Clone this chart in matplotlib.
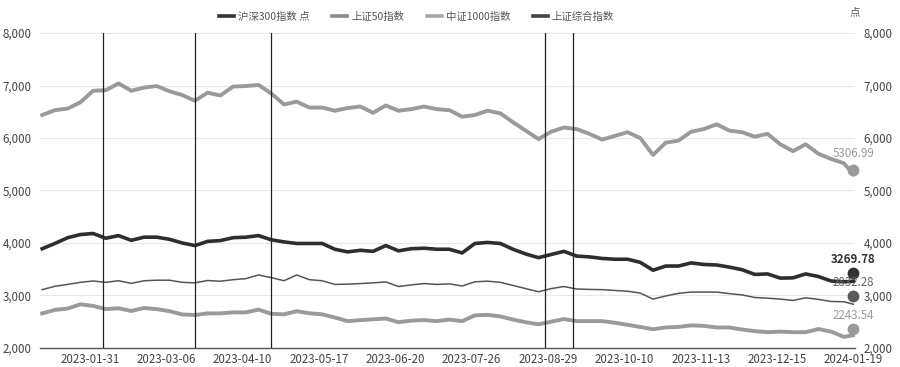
import matplotlib
matplotlib.use("Agg")
import matplotlib.pyplot as plt
from matplotlib.lines import Line2D
import matplotlib.transforms as mtransforms

plt.rcParams['font.family'] = ['Noto Sans CJK SC', 'DejaVu Sans']

# trading-day index of each sample (2023-01-03 = 0 ... 2024-01-19 = 255)
sample_days = list(range(0, 253, 4)) + [255]

csi1000 = [6438, 6530, 6560, 6680, 6900, 6910, 7040, 6900, 6960, 6990,
           6890, 6819, 6710, 6863, 6810, 6980, 6990, 7010, 6850, 6640,
           6692, 6580, 6580, 6520, 6570, 6600, 6480, 6620, 6520, 6550,
           6600, 6550, 6530, 6406, 6438, 6520, 6470, 6300, 6140, 5980,
           6120, 6200, 6170, 6080, 5970, 6040, 6110, 6000, 5676, 5910,
           5950, 6120, 6170, 6261, 6140, 6110, 6025, 6080, 5880, 5750,
           5880, 5700, 5600, 5520, 5306.99]

hs300 = [3890, 3990, 4100, 4160, 4180, 4090, 4140, 4050, 4110, 4110,
         4070, 4000, 3950, 4030, 4045, 4100, 4110, 4140, 4060, 4020,
         3990, 3990, 3990, 3880, 3830, 3860, 3840, 3950, 3850, 3890,
         3900, 3880, 3880, 3810, 3990, 4010, 3990, 3880, 3790, 3720,
         3780, 3840, 3750, 3735, 3705, 3690, 3690, 3630, 3480, 3560,
         3560, 3620, 3590, 3580, 3540, 3490, 3400, 3410, 3330, 3335,
         3410, 3360, 3275, 3260, 3269.78]

sh_comp = [3110, 3174, 3210, 3250, 3275, 3250, 3280, 3230, 3280, 3290,
           3290, 3250, 3240, 3284, 3271, 3300, 3320, 3390, 3340, 3280,
           3390, 3300, 3280, 3210, 3215, 3226, 3240, 3257, 3170, 3200,
           3226, 3210, 3220, 3180, 3260, 3271, 3250, 3190, 3130, 3070,
           3130, 3170, 3122, 3115, 3110, 3095, 3080, 3045, 2930, 2990,
           3040, 3064, 3064, 3064, 3035, 3010, 2961, 2948, 2930, 2905,
           2955, 2925, 2885, 2880, 2832.28]

sz50 = [2658, 2724, 2750, 2830, 2800, 2740, 2755, 2704, 2760, 2740,
        2700, 2638, 2627, 2658, 2658, 2677, 2677, 2730, 2650, 2640,
        2700, 2660, 2640, 2580, 2510, 2530, 2545, 2560, 2490, 2520,
        2530, 2511, 2540, 2510, 2620, 2630, 2600, 2540, 2490, 2450,
        2500, 2550, 2511, 2511, 2511, 2480, 2440, 2400, 2356, 2390,
        2400, 2430, 2420, 2390, 2390, 2350, 2320, 2300, 2310, 2300,
        2300, 2360, 2310, 2210, 2243.54]

tick_labels = ['2023-01-31', '2023-03-06', '2023-04-10', '2023-05-17', '2023-06-20',
               '2023-07-26', '2023-08-29', '2023-10-10', '2023-11-13', '2023-12-15',
               '2024-01-19']
tick_days = [15 + 24 * k for k in range(len(tick_labels))]
vline_days = [19, 48, 72, 158, 167]
yticks = [2000, 3000, 4000, 5000, 6000, 7000, 8000]

series = [
    ('沪深300指数 点', hs300, '#2e2e2e', 2.6, '#333333'),
    ('上证50指数', sz50, '#9a9a9a', 2.8, '#8a8a8a'),
    ('中证1000指数', csi1000, '#9a9a9a', 2.8, '#a8a8a8'),
    ('上证综合指数', sh_comp, '#555555', 1.1, '#444444'),
]

fig = plt.figure(figsize=(9, 3.67), dpi=100)
ax = fig.add_axes([0.0444, 0.052, 0.9056, 0.858])

for label, vals, col, lw, _ in series:
    ax.plot(sample_days, vals, color=col, lw=lw, solid_joinstyle='round', zorder=3)

for d in vline_days:
    ax.axvline(d, color='#222222', lw=0.9, zorder=4)

ax.set_xlim(-0.7, 255.5)
ax.set_ylim(2000, 8000)
ax.set_yticks(yticks)
ax.set_yticklabels([f'{v:,}' for v in yticks])
ax.set_xticks(tick_days)
ax.set_xticklabels(tick_labels)
ax.tick_params(axis='both', length=0, labelsize=8.3, colors='#444444')
ax.tick_params(axis='y', labelright=True, pad=6)
ax.tick_params(axis='x', pad=4)

for v in yticks[1:]:
    ax.axhline(v, color='#e8e8e8', lw=0.8, zorder=1)
for s in ['top', 'right', 'left']:
    ax.spines[s].set_visible(False)
ax.spines['bottom'].set_color('#555555')
ax.spines['bottom'].set_linewidth(1.0)

# end markers and labels
ends = [
    (csi1000, '#9a9a9a', '#9a9a9a', 'normal', 4, 17),
    (hs300, '#333333', '#333333', 'bold', 8, 14),
    (sh_comp, '#5a5a5a', '#666666', 'normal', 8, 14),
    (sz50, '#9a9a9a', '#999999', 'normal', 6, 14),
]
for vals, mcol, tcol, weight, moff, toff in ends:
    off = mtransforms.offset_copy(ax.transData, fig=fig, x=0, y=moff, units='dots')
    ax.plot([sample_days[-1]], [vals[-1]], 'o', ms=7.5, color=mcol, transform=off,
            zorder=6, clip_on=False)
    ax.annotate(f'{vals[-1]:.2f}', (sample_days[-1], vals[-1]), xytext=(0, moff + toff),
                textcoords='offset pixels', ha='center', va='center', fontsize=8.3,
                color=tcol, fontweight=weight, zorder=7, annotation_clip=False)

handles = [Line2D([0], [0], color=lc, lw=2.6) for _, _, _, _, lc in series]
leg = fig.legend(handles, [s[0] for s in series], loc='center', bbox_to_anchor=(0.463, 0.955),
                 ncol=4, frameon=False, fontsize=7.5, handlelength=1.4, handletextpad=0.4,
                 columnspacing=2.2)
for t in leg.get_texts():
    t.set_color('#555555')

fig.text(0.944, 0.968, '点', fontsize=7.5, color='#555555', ha='left', va='center')

fig.savefig('out.png', dpi=100, facecolor='white')
